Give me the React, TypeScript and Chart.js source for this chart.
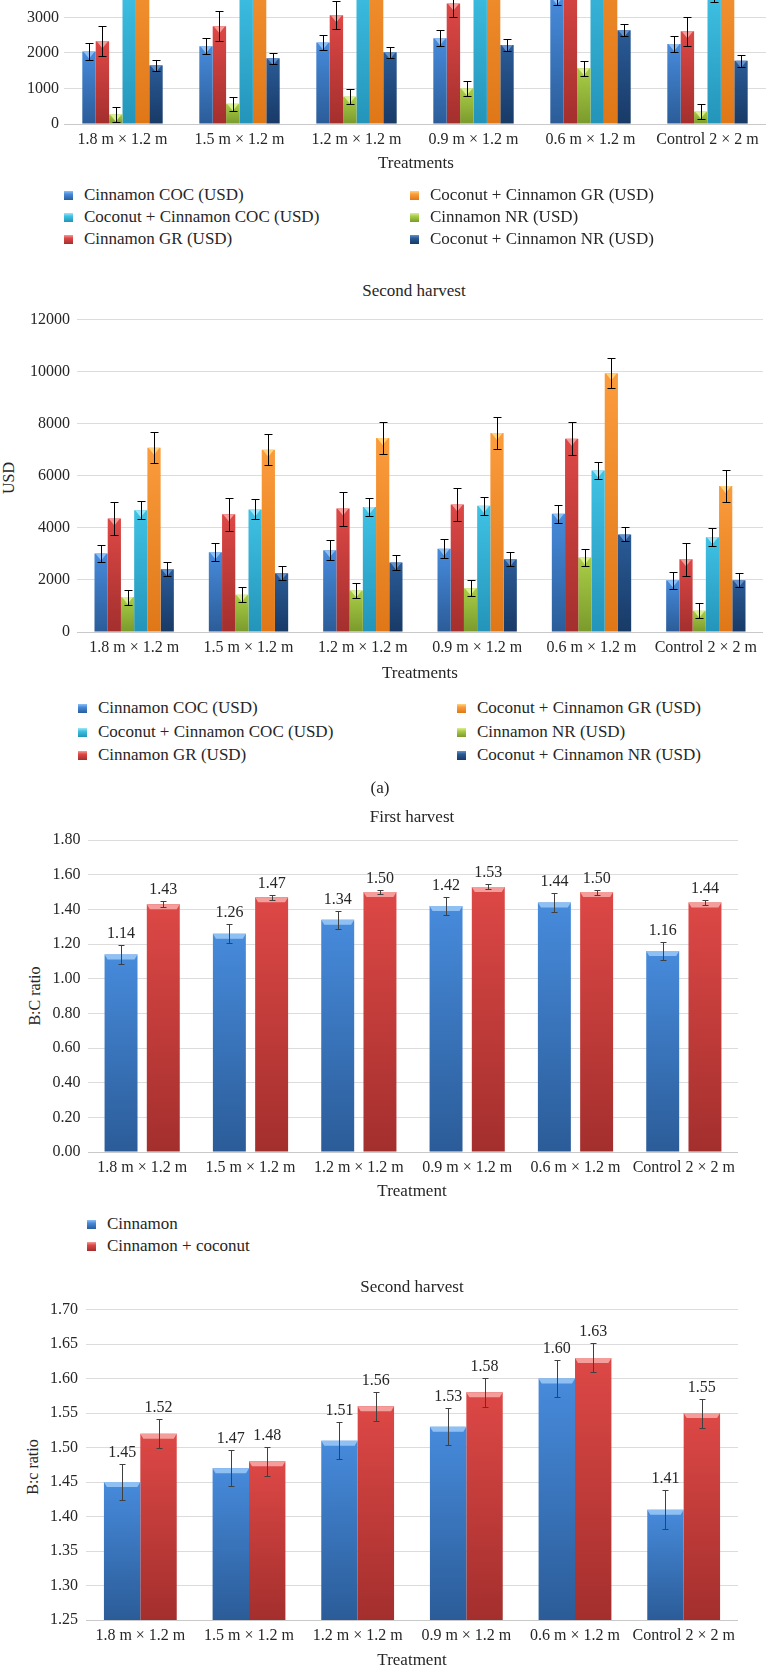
import React, { useEffect, useRef } from 'react';
import { Chart, registerables } from 'chart.js';

Chart.register(...registerables);

const FONT = '"Liberation Serif", "DejaVu Serif", "Times New Roman", serif';
const TEXT = '#262626';

const treatments = ['1.8 m × 1.2 m', '1.5 m × 1.2 m', '1.2 m × 1.2 m', '0.9 m × 1.2 m', '0.6 m × 1.2 m', 'Control 2 × 2 m'];

// First harvest, USD
const cinCOC1 = [2040, 2190, 2290, 2410, 3560, 2250];
const cinCOC1Err = [240, 230, 220, 220, 210, 230];
const cinGR1 = [2330, 2750, 3060, 3390, 4350, 2610];
const cinGR1Err = [430, 420, 400, 390, 420, 410];
const cinNR1 = [270, 570, 770, 1000, 1570, 350];
const cinNR1Err = [220, 200, 220, 220, 210, 210];
const cocCOC1 = [3950, 4100, 4200, 4300, 5400, 3750];
const cocCOC1Err = [330, 340, 340, 330, 340, 330];
const cocGR1 = [5700, 6000, 6300, 6600, 8200, 5500];
const cocGR1Err = [560, 580, 590, 600, 580, 590];
const cocNR1 = [1650, 1850, 2020, 2220, 2640, 1780];
const cocNR1Err = [160, 160, 150, 160, 170, 170];

// Second harvest, USD
const cinCOC2 = [3020, 3060, 3140, 3200, 4540, 1990];
const cinCOC2Err = [340, 340, 380, 360, 350, 330];
const cinGR2 = [4360, 4520, 4740, 4900, 7420, 2790];
const cinGR2Err = [620, 630, 650, 640, 640, 620];
const cinNR2 = [1340, 1430, 1590, 1680, 2860, 820];
const cinNR2Err = [290, 290, 300, 300, 310, 290];
const cocCOC2 = [4680, 4710, 4800, 4850, 6200, 3640];
const cocCOC2Err = [340, 380, 350, 350, 340, 340];
const cocGR2 = [7080, 7000, 7450, 7640, 9940, 5610];
const cocGR2Err = [590, 600, 610, 620, 570, 610];
const cocNR2 = [2410, 2260, 2670, 2790, 3750, 1990];
const cocNR2Err = [260, 270, 270, 270, 270, 270];

// Benefit : cost ratio, first harvest
const bcCin1 = [1.14, 1.26, 1.34, 1.42, 1.44, 1.16];
const bcCin1Err = [0.055, 0.056, 0.053, 0.05, 0.054, 0.052];
const bcMix1 = [1.43, 1.47, 1.5, 1.53, 1.5, 1.44];
const bcMix1Err = [0.016, 0.013, 0.012, 0.015, 0.014, 0.017];

// Benefit : cost ratio, second harvest
const bcCin2 = [1.45, 1.47, 1.51, 1.53, 1.6, 1.41];
const bcCin2Err = [0.026, 0.026, 0.027, 0.027, 0.027, 0.028];
const bcMix2 = [1.52, 1.48, 1.56, 1.58, 1.63, 1.55];
const bcMix2Err = [0.021, 0.021, 0.021, 0.021, 0.021, 0.021];

type Swatch = { top: string; bottom: string; cap: string };
const BLUE: Swatch = { top: '#478bdc', bottom: '#2b5c98', cap: '#8fc0f4' };
const RED: Swatch = { top: '#dd4846', bottom: '#a32f2d', cap: '#f49d9a' };
const GREEN: Swatch = { top: '#a9cd46', bottom: '#7a9a2c', cap: '#dcef94' };
const CYAN: Swatch = { top: '#3fc2e5', bottom: '#2494b9', cap: '#a2e6f6' };
const ORANGE: Swatch = { top: '#fb9c3c', bottom: '#df7717', cap: '#ffd47c' };
const NAVY: Swatch = { top: '#2a5b97', bottom: '#183a66', cap: '#6492cc' };

function barFill(s: Swatch) {
  return (c: any) => {
    const chart = c.chart;
    const area = chart.chartArea;
    const ys = chart.scales && chart.scales.y;
    if (!area || !ys || c.type !== 'data') return s.top;
    const top = ys.getPixelForValue(c.raw);
    const bottom = ys.getPixelForValue(ys.min);
    if (!isFinite(top) || !isFinite(bottom) || bottom - top < 1) return s.top;
    const g = chart.ctx.createLinearGradient(0, top, 0, bottom);
    g.addColorStop(0, s.top);
    g.addColorStop(1, s.bottom);
    return g;
  };
}

// Bevel caps, error bars and optional value labels on top of each bar
const decorPlugin = {
  id: 'decor',
  afterDatasetsDraw(chart: any, _args: any, opts: any) {
    const ctx = chart.ctx;
    const ys = chart.scales.y;
    chart.data.datasets.forEach((ds: any, di: number) => {
      const meta = chart.getDatasetMeta(di);
      meta.data.forEach((bar: any, i: number) => {
        const v = ds.data[i];
        const { x, y, width } = bar.getProps(['x', 'y', 'width'], true);
        const l = x - width / 2;
        const r = x + width / 2;
        ctx.save();
        ctx.fillStyle = ds.capColor;
        ctx.beginPath();
        if (opts.cap === 'band') {
          ctx.moveTo(l, y);
          ctx.lineTo(r, y);
          ctx.lineTo(r - 3, y + 5);
          ctx.lineTo(l + 3, y + 5);
        } else {
          ctx.moveTo(l + 1, y);
          ctx.lineTo(r - 1, y);
          ctx.lineTo(x, y + 7);
        }
        ctx.closePath();
        ctx.fill();
        ctx.restore();

        const e = ds.errors[i];
        const yt = Math.round(ys.getPixelForValue(v + e)) + 0.5;
        const yb = Math.round(ys.getPixelForValue(v - e)) + 0.5;
        const cx = Math.round(x) + 0.5;
        const hw = opts.capW / 2;
        ctx.save();
        ctx.strokeStyle = opts.errColor;
        ctx.lineWidth = opts.errWidth;
        ctx.beginPath();
        ctx.moveTo(cx, yt);
        ctx.lineTo(cx, yb);
        ctx.moveTo(cx - hw, yt);
        ctx.lineTo(cx + hw, yt);
        ctx.moveTo(cx - hw, yb);
        ctx.lineTo(cx + hw, yb);
        ctx.stroke();
        ctx.restore();

        if (opts.labels) {
          ctx.save();
          ctx.fillStyle = TEXT;
          ctx.font = `16px ${FONT}`;
          ctx.textAlign = 'center';
          ctx.textBaseline = 'middle';
          ctx.fillText(v.toFixed(2), x, yt - opts.labelGap);
          ctx.restore();
        }
      });
    });
  },
};

type Series = { label: string; data: number[]; errors: number[]; swatch: Swatch };

type ChartProps = {
  top: number;
  height: number;
  padRight: number;
  yWidth: number;
  yPad: number;
  yMin: number;
  yMax: number;
  yStep: number;
  decimals: number;
  series: Series[];
  catPct: number;
  barPct: number;
  cap: 'triangle' | 'band';
  errColor: string;
  capW: number;
  labels: boolean;
};

function BarChart(p: ChartProps) {
  const ref = useRef<HTMLCanvasElement>(null);
  useEffect(() => {
    const chart = new Chart(ref.current as HTMLCanvasElement, {
      type: 'bar',
      data: {
        labels: treatments,
        datasets: p.series.map((s) => ({
          label: s.label,
          data: s.data,
          errors: s.errors,
          capColor: s.swatch.cap,
          backgroundColor: barFill(s.swatch),
          borderWidth: 0,
          categoryPercentage: p.catPct,
          barPercentage: p.barPct,
        })) as any,
      },
      options: {
        animation: false,
        responsive: false,
        maintainAspectRatio: false,
        layout: { padding: { top: 16, right: p.padRight, bottom: 0, left: 0 } },
        plugins: {
          legend: { display: false },
          title: { display: false },
          tooltip: { enabled: false },
          decor: {
            cap: p.cap,
            errColor: p.errColor,
            errWidth: 1,
            capW: p.capW,
            labels: p.labels,
            labelGap: 12,
          },
        } as any,
        scales: {
          x: {
            grid: { display: false, drawTicks: false },
            border: { display: false },
            ticks: {
              color: TEXT,
              font: { family: FONT, size: 16 },
              padding: 6,
              maxRotation: 0,
              minRotation: 0,
              autoSkip: false,
            },
            afterFit: (s: any) => {
              s.height = 40;
            },
          },
          y: {
            min: p.yMin,
            max: p.yMax,
            grid: {
              color: (c: any) => (c.tick && Math.abs(c.tick.value - p.yMin) < 1e-9 ? '#c9c9c9' : '#dcdcdc'),
              lineWidth: 1,
              drawTicks: false,
            },
            border: { display: false },
            ticks: {
              stepSize: p.yStep,
              color: TEXT,
              font: { family: FONT, size: 16 },
              padding: p.yPad,
              callback: (v: any) => Number(v).toFixed(p.decimals),
            },
            afterFit: (s: any) => {
              s.width = p.yWidth;
            },
          },
        },
      },
      plugins: [decorPlugin],
    });
    return () => chart.destroy();
  }, []);
  return (
    <canvas
      ref={ref}
      width={766}
      height={p.height}
      style={{ position: 'absolute', left: 0, top: p.top, width: 766, height: p.height }}
    />
  );
}

const textStyle: React.CSSProperties = {
  position: 'absolute',
  whiteSpace: 'nowrap',
  fontFamily: FONT,
  fontSize: 17,
  lineHeight: '20px',
  color: TEXT,
};

function Centered({ x, y, text, rotate, size = 17 }: { x: number; y: number; text: string; rotate?: boolean; size?: number }) {
  return (
    <div
      style={{
        ...textStyle,
        fontSize: size,
        left: x,
        top: y,
        transform: `translate(-50%, -50%)${rotate ? ' rotate(-90deg)' : ''}`,
      }}
    >
      {text}
    </div>
  );
}

function LegendItem({ x, textX, y, label, swatch }: { x: number; textX: number; y: number; label: string; swatch: Swatch }) {
  return (
    <>
      <div
        style={{
          position: 'absolute',
          left: x,
          top: y - 4,
          width: 9,
          height: 9,
          background: `linear-gradient(${swatch.cap} 0%, ${swatch.top} 35%, ${swatch.bottom} 100%)`,
        }}
      />
      <div style={{ ...textStyle, left: textX, top: y - 10 }}>{label}</div>
    </>
  );
}

const usdLabels = {
  cinCOC: 'Cinnamon COC (USD)',
  cinGR: 'Cinnamon GR (USD)',
  cinNR: 'Cinnamon NR (USD)',
  cocCOC: 'Coconut + Cinnamon COC (USD)',
  cocGR: 'Coconut + Cinnamon GR (USD)',
  cocNR: 'Coconut + Cinnamon NR (USD)',
};

const firstUsd: Series[] = [
  { label: usdLabels.cinCOC, data: cinCOC1, errors: cinCOC1Err, swatch: BLUE },
  { label: usdLabels.cinGR, data: cinGR1, errors: cinGR1Err, swatch: RED },
  { label: usdLabels.cinNR, data: cinNR1, errors: cinNR1Err, swatch: GREEN },
  { label: usdLabels.cocCOC, data: cocCOC1, errors: cocCOC1Err, swatch: CYAN },
  { label: usdLabels.cocGR, data: cocGR1, errors: cocGR1Err, swatch: ORANGE },
  { label: usdLabels.cocNR, data: cocNR1, errors: cocNR1Err, swatch: NAVY },
];

const secondUsd: Series[] = [
  { label: usdLabels.cinCOC, data: cinCOC2, errors: cinCOC2Err, swatch: BLUE },
  { label: usdLabels.cinGR, data: cinGR2, errors: cinGR2Err, swatch: RED },
  { label: usdLabels.cinNR, data: cinNR2, errors: cinNR2Err, swatch: GREEN },
  { label: usdLabels.cocCOC, data: cocCOC2, errors: cocCOC2Err, swatch: CYAN },
  { label: usdLabels.cocGR, data: cocGR2, errors: cocGR2Err, swatch: ORANGE },
  { label: usdLabels.cocNR, data: cocNR2, errors: cocNR2Err, swatch: NAVY },
];

const firstBc: Series[] = [
  { label: 'Cinnamon', data: bcCin1, errors: bcCin1Err, swatch: BLUE },
  { label: 'Cinnamon + coconut', data: bcMix1, errors: bcMix1Err, swatch: RED },
];

const secondBc: Series[] = [
  { label: 'Cinnamon', data: bcCin2, errors: bcCin2Err, swatch: BLUE },
  { label: 'Cinnamon + coconut', data: bcMix2, errors: bcMix2Err, swatch: RED },
];

function UsdLegend({ rows, c1, c2 }: { rows: number[]; c1: [number, number]; c2: [number, number] }) {
  const left = [
    { label: usdLabels.cinCOC, swatch: BLUE },
    { label: usdLabels.cocCOC, swatch: CYAN },
    { label: usdLabels.cinGR, swatch: RED },
  ];
  const right = [
    { label: usdLabels.cocGR, swatch: ORANGE },
    { label: usdLabels.cinNR, swatch: GREEN },
    { label: usdLabels.cocNR, swatch: NAVY },
  ];
  return (
    <>
      {left.map((it, i) => (
        <LegendItem key={'l' + i} x={c1[0]} textX={c1[1]} y={rows[i]} label={it.label} swatch={it.swatch} />
      ))}
      {right.map((it, i) => (
        <LegendItem key={'r' + i} x={c2[0]} textX={c2[1]} y={rows[i]} label={it.label} swatch={it.swatch} />
      ))}
    </>
  );
}

export default function App() {
  return (
    <div
      style={{
        position: 'absolute',
        left: 0,
        top: 0,
        width: 766,
        height: 1666,
        overflow: 'hidden',
        background: '#ffffff',
      }}
    >
      {/* (a) first harvest, USD */}
      <BarChart
        top={-212}
        height={376}
        padRight={0}
        yWidth={64}
        yPad={5}
        yMin={0}
        yMax={9000}
        yStep={1000}
        decimals={0}
        series={firstUsd}
        catPct={0.687}
        barPct={1}
        cap="triangle"
        errColor="#000000"
        capW={8}
        labels={false}
      />
      <Centered x={416} y={163} text="Treatments" />
      <UsdLegend rows={[195, 217, 239]} c1={[64, 84]} c2={[410, 430]} />

      {/* (a) second harvest, USD */}
      <Centered x={414} y={291} text="Second harvest" />
      <Centered x={9} y={478} text="USD" rotate size={16} />
      <BarChart
        top={303}
        height={369}
        padRight={3}
        yWidth={77}
        yPad={7}
        yMin={0}
        yMax={12000}
        yStep={2000}
        decimals={0}
        series={secondUsd}
        catPct={0.694}
        barPct={1}
        cap="triangle"
        errColor="#000000"
        capW={8}
        labels={false}
      />
      <Centered x={420} y={673} text="Treatments" />
      <UsdLegend rows={[708, 732, 755]} c1={[78, 98]} c2={[457, 477]} />
      <Centered x={380} y={788} text="(a)" />

      {/* B:C ratio, first harvest */}
      <Centered x={412} y={817} text="First harvest" />
      <Centered x={35} y={996} text="B:C ratio" rotate size={16} />
      <BarChart
        top={823}
        height={369}
        padRight={28}
        yWidth={88}
        yPad={7.5}
        yMin={0}
        yMax={1.8}
        yStep={0.2}
        decimals={2}
        series={firstBc}
        catPct={0.78}
        barPct={0.78}
        cap="band"
        errColor="#404040"
        capW={6}
        labels={true}
      />
      <Centered x={412} y={1191} text="Treatment" />
      <LegendItem x={87} textX={107} y={1224} label="Cinnamon" swatch={BLUE} />
      <LegendItem x={87} textX={107} y={1246} label="Cinnamon + coconut" swatch={RED} />

      {/* B:C ratio, second harvest */}
      <Centered x={412} y={1287} text="Second harvest" />
      <Centered x={33} y={1467} text="B:c ratio" rotate size={16} />
      <BarChart
        top={1292}
        height={368}
        padRight={28}
        yWidth={86}
        yPad={8}
        yMin={1.25}
        yMax={1.7}
        yStep={0.05}
        decimals={2}
        series={secondBc}
        catPct={0.67}
        barPct={1}
        cap="band"
        errColor="#404040"
        capW={6}
        labels={true}
      />
      <Centered x={412} y={1660} text="Treatment" />
    </div>
  );
}
